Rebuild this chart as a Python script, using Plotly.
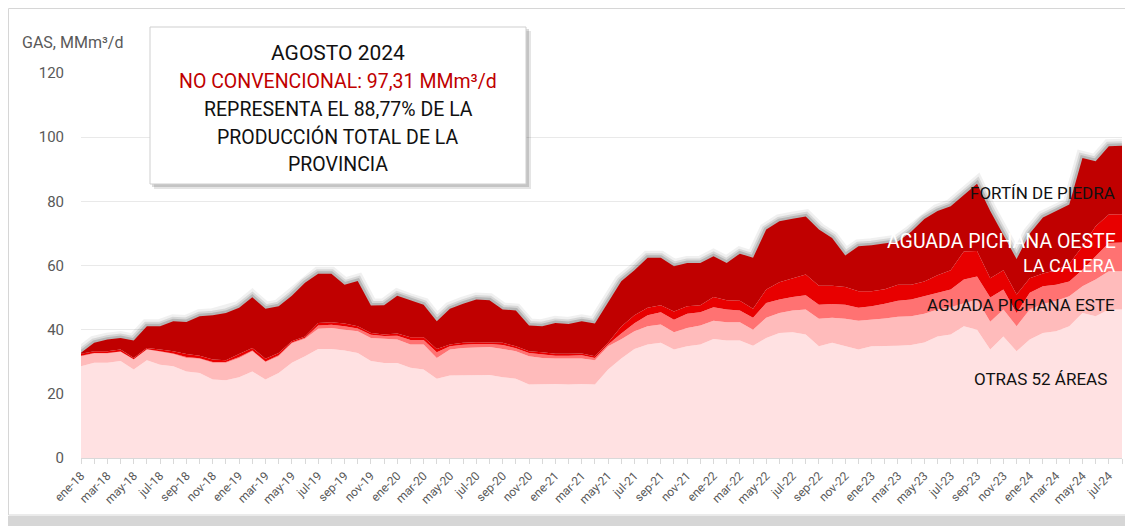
import plotly.graph_objects as go

month_abbr = ["ene", "feb", "mar", "abr", "may", "jun", "jul", "ago", "sep", "oct", "nov", "dic"]
years = [18, 19, 20, 21, 22, 23, 24]
months = [f"{m}-{y}" for y in years for m in month_abbr][:80]  # ene-18 .. ago-24

otras = [28.6, 29.7, 29.7, 30.2, 27.6, 30.5, 29.1, 28.6, 27.0, 26.5,
         24.5, 24.2, 25.2, 27.0, 24.5, 26.5, 29.7, 31.7, 34.0, 34.0,
         33.5, 32.7, 30.2, 29.6, 29.6, 28.1, 27.6, 24.7, 25.7, 25.7,
         25.9, 25.9, 25.2, 24.7, 22.9, 23.1, 23.1, 22.9, 23.1, 22.9,
         27.6, 31.0, 34.0, 35.4, 35.9, 33.8, 34.8, 35.4, 37.1, 36.6,
         36.6, 35.0, 37.4, 39.0, 39.2, 38.5, 34.8, 35.9, 34.8, 33.8,
         34.8, 34.8, 35.0, 35.2, 36.0, 37.9, 38.5, 41.1, 40.0, 33.8,
         37.9, 33.3, 36.9, 39.0, 39.5, 41.1, 45.2, 44.2, 46.3, 46.3]

ap_este = [3.1, 2.9, 2.9, 2.9, 3.1, 3.3, 4.0, 3.8, 4.2, 4.4,
           5.2, 5.5, 6.0, 6.3, 5.4, 5.2, 6.1, 5.5, 6.3, 6.5,
           6.5, 6.8, 7.2, 7.6, 7.3, 7.3, 7.8, 6.5, 8.1, 8.6,
           8.6, 8.7, 8.8, 8.6, 8.8, 8.1, 7.9, 8.1, 7.9, 7.6,
           7.2, 6.0, 5.5, 5.7, 5.7, 5.4, 5.7, 5.9, 5.7, 5.7,
           5.7, 5.0, 6.3, 6.2, 6.8, 7.8, 8.6, 7.8, 8.6, 9.0,
           8.3, 8.7, 9.0, 9.0, 9.0, 8.4, 8.5, 7.2, 9.4, 8.7,
           8.4, 7.8, 9.4, 9.0, 9.5, 9.3, 8.3, 11.4, 11.9, 11.9]

la_calera = [0.2, 0.1, 0.1, 0.1, 0.1, 0.1, 0.2, 0.2, 0.3, 0.2,
             0.2, 0.2, 0.3, 0.2, 0.2, 0.3, 0.2, 0.3, 1.0, 1.0,
             1.1, 0.9, 1.0, 0.8, 1.2, 1.4, 1.4, 1.8, 1.0, 1.0,
             1.0, 0.9, 1.2, 0.9, 1.0, 1.1, 0.9, 0.9, 1.0, 0.7,
             0.6, 1.8, 2.5, 3.4, 3.8, 3.9, 4.5, 4.1, 4.2, 4.0,
             3.7, 3.7, 4.6, 4.2, 4.2, 4.4, 4.4, 4.3, 4.4, 4.0,
             4.2, 4.6, 5.0, 5.2, 5.4, 5.2, 5.5, 7.3, 7.2, 7.5,
             6.2, 4.1, 5.2, 5.5, 5.0, 4.6, 5.2, 7.3, 8.8, 9.0]

ap_oeste = [0.6, 0.6, 0.6, 0.6, 0.4, 0.4, 0.5, 0.7, 0.9, 0.8,
            0.8, 0.6, 0.9, 0.8, 0.8, 0.7, 0.4, 0.4, 0.8, 0.8,
            0.8, 0.7, 0.6, 0.5, 0.7, 0.8, 0.8, 1.0, 0.6, 0.6,
            0.6, 0.6, 0.7, 0.6, 0.6, 0.7, 0.6, 0.6, 0.6, 0.5,
            0.5, 2.2, 2.5, 2.3, 2.2, 2.6, 2.3, 2.2, 3.2, 2.9,
            3.0, 2.8, 4.2, 5.4, 5.9, 6.5, 5.9, 5.7, 5.5, 5.2,
            4.7, 4.5, 5.0, 4.6, 4.6, 5.5, 6.0, 8.8, 7.9, 6.0,
            6.0, 5.8, 4.5, 4.0, 4.5, 5.5, 7.3, 9.3, 8.9, 8.8]

fortin = [0.3, 2.6, 3.6, 3.6, 5.4, 6.8, 7.3, 9.3, 10.0, 12.3,
          13.8, 14.7, 14.4, 15.8, 15.6, 14.6, 14.2, 16.7, 15.3, 15.1,
          12.1, 14.1, 8.5, 9.1, 11.8, 11.5, 10.2, 8.6, 11.1, 12.2,
          13.3, 13.1, 10.4, 11.2, 8.0, 8.1, 9.6, 9.3, 10.0, 10.2,
          12.4, 14.1, 14.0, 15.6, 14.8, 14.1, 13.5, 13.2, 12.7, 11.6,
          14.7, 15.9, 18.7, 19.0, 18.5, 18.1, 17.5, 14.9, 9.8, 14.0,
          14.3, 14.2, 13.5, 16.5, 19.5, 20.0, 20.0, 17.6, 21.0, 21.0,
          11.0, 11.0, 14.0, 17.5, 18.5, 18.5, 27.5, 20.3, 21.3, 21.3]

series_names = ["OTRAS 52 ÁREAS", "AGUADA PICHANA ESTE", "LA CALERA",
                "AGUADA PICHANA OESTE", "FORTÍN DE PIEDRA"]
series_values = [otras, ap_este, la_calera, ap_oeste, fortin]
series_colors = ["#FFE1E2", "#FFBBBB", "#FF7272", "#E80000", "#C00000"]

idx = list(range(len(months)))
total = [sum(v) for v in zip(*series_values)]

FONT = "Roboto"
GREY = "#595959"

fig = go.Figure()

# soft shadow above the top of the stack
for w, a in [(14, 0.06), (9, 0.10), (5, 0.15)]:
    fig.add_trace(go.Scatter(x=idx, y=total, mode="lines",
                             line=dict(color=f"rgba(0,0,0,{a})", width=w),
                             hoverinfo="skip", showlegend=False))

for name, vals, col in zip(series_names, series_values, series_colors):
    fig.add_trace(go.Scatter(x=idx, y=vals, name=name, mode="lines",
                             stackgroup="gas", line=dict(width=0, color=col),
                             fillcolor=col, showlegend=False))

# page has an 8px body margin: work in screen pixels, shift by OFF
OFF = 8
FW, FH = 1133 - OFF, 526 - OFF
L, T, W, H = 81 - OFF, 73 - OFF, 1041, 385
def px(x):
    return (x - OFF - L) / W
def py(y):
    return (T + H - (y - OFF)) / H

shapes = [
    # outer chart frame
    dict(type="rect", xref="paper", yref="paper", x0=px(8.5), x1=px(1131), y0=py(515), y1=py(8.5),
         line=dict(color="#D6D6D6", width=1), fillcolor="rgba(0,0,0,0)", layer="below"),
    dict(type="rect", xref="paper", yref="paper", x0=px(8), x1=px(1133), y0=py(526), y1=py(516),
         line=dict(width=0), fillcolor="rgba(0,0,0,0.16)", layer="below"),
    # info box shadow and box
    dict(type="rect", xref="paper", yref="paper", x0=px(154), x1=px(531), y0=py(189), y1=py(31),
         line=dict(width=0), fillcolor="rgba(0,0,0,0.10)", layer="above"),
    dict(type="rect", xref="paper", yref="paper", x0=px(152), x1=px(529), y0=py(187), y1=py(29),
         line=dict(width=0), fillcolor="rgba(0,0,0,0.14)", layer="above"),
    dict(type="rect", xref="paper", yref="paper", x0=px(150), x1=px(526), y0=py(184), y1=py(27),
         line=dict(color="#CFCFCF", width=1), fillcolor="#FFFFFF", layer="above"),
]

box_lines = [
    ("AGOSTO 2024", 53, "#111111", 21),
    ("NO CONVENCIONAL: 97,31 MMm³/d", 81, "#C00000", 19.5),
    ("REPRESENTA EL 88,77% DE LA", 109, "#111111", 19.5),
    ("PRODUCCIÓN TOTAL DE LA", 137, "#111111", 19.5),
    ("PROVINCIA", 164, "#111111", 19.5),
]
annotations = []
for txt, yy, col, sz in box_lines:
    annotations.append(dict(text=txt, xref="paper", yref="paper", x=px(338), y=py(yy),
                            xanchor="center", yanchor="middle", showarrow=False,
                            font=dict(family=FONT, size=sz, color=col)))

area_labels = [
    ("FORTÍN DE PIEDRA", 1117, 193, "#111111", 17),
    ("AGUADA PICHANA OESTE", 1118, 241, "#FFFFFF", 19.5),
    ("LA CALERA", 1118, 265, "#FFFFFF", 18),
    ("AGUADA PICHANA ESTE", 1117, 305, "#111111", 17),
    ("OTRAS 52 ÁREAS", 1109, 379, "#111111", 17),
]
for txt, xx, yy, col, sz in area_labels:
    annotations.append(dict(text=txt, xref="paper", yref="paper", x=px(xx), y=py(yy),
                            xanchor="right", yanchor="middle", showarrow=False,
                            font=dict(family=FONT, size=sz, color=col)))

annotations.append(dict(text="GAS, MMm³/d", xref="paper", yref="paper", x=px(20), y=py(42),
                        xanchor="left", yanchor="middle", showarrow=False,
                        font=dict(family=FONT, size=16, color=GREY)))

fig.update_layout(
    width=FW, height=FH,
    margin=dict(l=L, r=FW - L - W, t=T, b=FH - T - H),
    paper_bgcolor="white", plot_bgcolor="white",
    showlegend=False,
    shapes=shapes, annotations=annotations,
    font=dict(family=FONT, color=GREY),
)
fig.update_xaxes(
    range=[0, len(months) - 1], tickmode="array",
    tickvals=idx[::2], ticktext=months[::2], tickangle=-45,
    tickfont=dict(family=FONT, size=12, color=GREY),
    showgrid=False, zeroline=False,
    showline=True, linecolor="#D9D9D9", linewidth=1,
    ticks="outside", ticklen=5, tickcolor="#D9D9D9",
    minor=dict(dtick=1, tick0=0, ticks="outside", ticklen=5, tickcolor="#D9D9D9"),
)
fig.update_yaxes(
    range=[0, 120], dtick=20, showgrid=True, gridcolor="#E9E9E9", gridwidth=1,
    zeroline=False, showline=False, ticks="", ticklabelstandoff=16,
    tickfont=dict(family=FONT, size=15, color=GREY),
)

fig.write_html("out.html")
